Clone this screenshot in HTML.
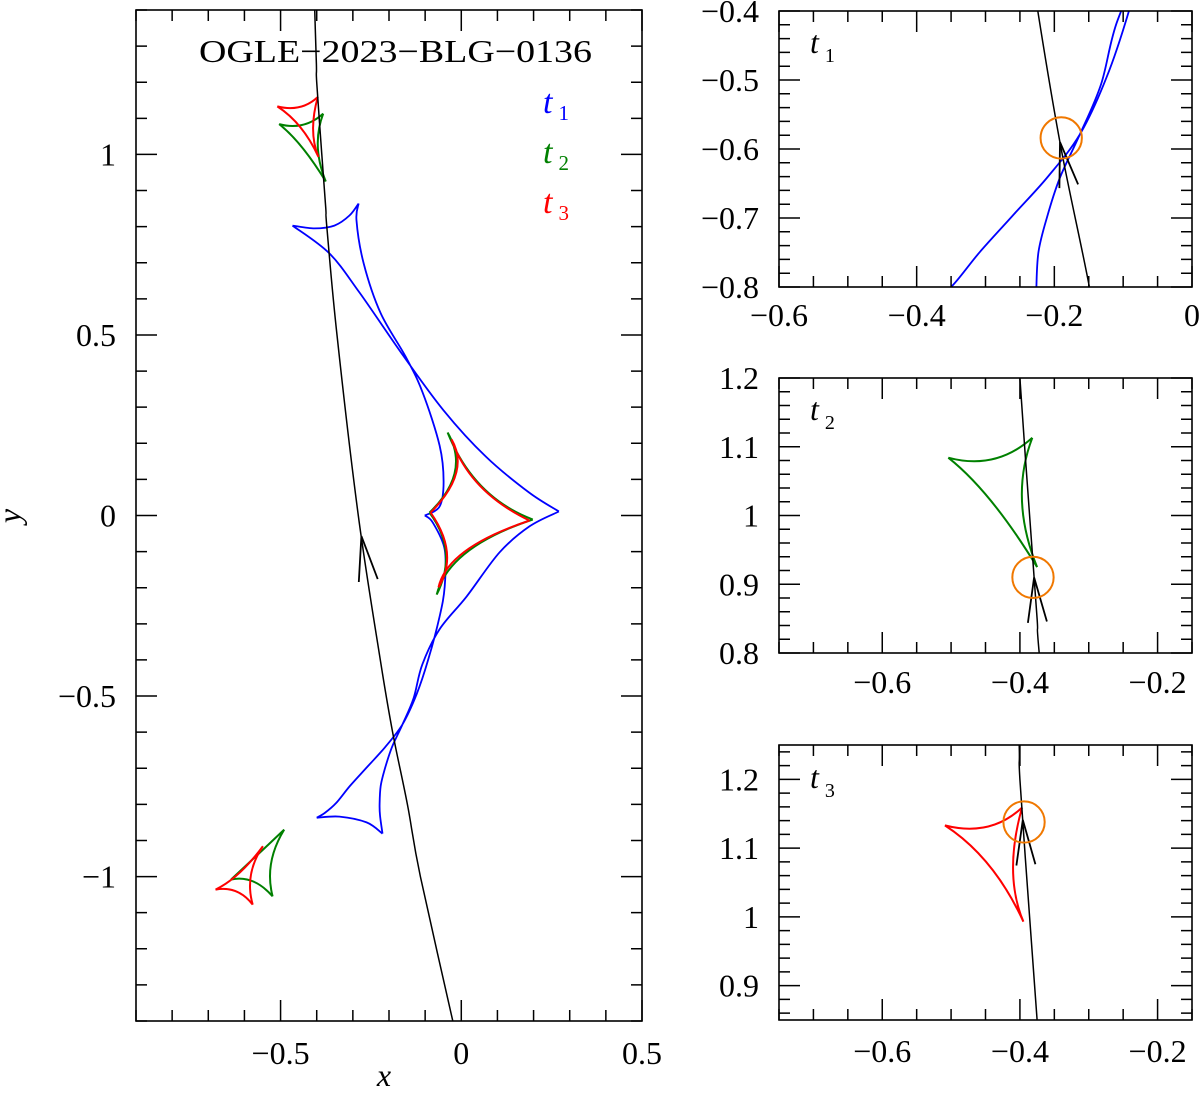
<!DOCTYPE html>
<html><head><meta charset="utf-8"><style>
html,body{margin:0;padding:0;background:#fff;overflow:hidden;width:1200px;height:1094px;}
svg{display:block;position:absolute;left:0;top:0;}
text{font-family:"Liberation Serif",serif;fill:#000;}
</style></head><body>
<svg id="fig" width="1200" height="1094" viewBox="0 0 1200 1094" xmlns="http://www.w3.org/2000/svg">
<defs>
<clipPath id="c0"><rect x="136" y="10" width="506" height="1011"/></clipPath>
<clipPath id="c1"><rect x="779" y="11" width="413" height="276"/></clipPath>
<clipPath id="c2"><rect x="779" y="378" width="413" height="275"/></clipPath>
<clipPath id="c3"><rect x="779" y="745" width="413" height="275"/></clipPath>
</defs>
<text x="199" y="62" font-size="32" textLength="393" lengthAdjust="spacingAndGlyphs">OGLE−2023−BLG−0136</text>
<g font-style="italic">
<text x="543" y="113" font-size="34" style="fill:#0000ff">t<tspan font-size="21" font-style="normal" dx="6" dy="7">1</tspan></text>
<text x="543" y="163" font-size="34" style="fill:#008000">t<tspan font-size="21" font-style="normal" dx="6" dy="7">2</tspan></text>
<text x="543" y="213" font-size="34" style="fill:#ff0000">t<tspan font-size="21" font-style="normal" dx="6" dy="7">3</tspan></text>
</g>
<text x="384" y="1086" font-size="32" font-style="italic" text-anchor="middle">x</text>
<text x="0" y="0" font-size="32" font-style="italic" text-anchor="middle" transform="translate(20,516) rotate(-90)">y</text>
<text x="810" y="53" font-size="32" font-style="italic">t<tspan font-size="20" font-style="normal" dx="6" dy="9">1</tspan></text>
<text x="810" y="420" font-size="32" font-style="italic">t<tspan font-size="20" font-style="normal" dx="6" dy="9">2</tspan></text>
<text x="810" y="788" font-size="32" font-style="italic">t<tspan font-size="20" font-style="normal" dx="6" dy="9">3</tspan></text>
</svg>
<script>
// ---- data (lens-plane coordinates) ----
const trajY = [1.45, 1.25, 1.2, 1.0, 0.85, 0.8, 0.5, 0.0, -0.4, -0.6, -0.8, -1.0, -1.45];
const trajX = [-0.407, -0.401, -0.400, -0.386, -0.375, -0.372, -0.344, -0.285, -0.224, -0.190, -0.149, -0.113, -0.012];
const blueCausticX = [-0.467,-0.406,-0.351,-0.309,-0.284,-0.290,-0.270,-0.223,-0.154,-0.107,-0.060,-0.049,-0.060,-0.101,-0.079,-0.046,-0.046,-0.060,-0.092,-0.124,-0.163,-0.211,-0.259,-0.308,-0.347,-0.378,-0.400,-0.337,-0.262,-0.218,-0.225,-0.226,-0.223,-0.211,-0.192,-0.163,-0.132,-0.108,-0.060,0.015,0.106,0.189,0.270,0.187,0.068,-0.049,-0.165,-0.282,-0.365,-0.467];
const blueCausticY = [0.803,0.795,0.803,0.831,0.864,0.817,0.698,0.560,0.440,0.341,0.194,0.094,0.025,0.0,-0.019,-0.094,-0.197,-0.280,-0.401,-0.496,-0.579,-0.642,-0.695,-0.749,-0.797,-0.824,-0.837,-0.834,-0.850,-0.881,-0.830,-0.800,-0.749,-0.700,-0.642,-0.579,-0.506,-0.413,-0.315,-0.224,-0.102,-0.030,0.011,0.064,0.163,0.291,0.449,0.618,0.726,0.803];
const blueCusps = [0, 4, 13, 26, 29, 42, 49];
// small caustics: cusps then mid-edge points (edges i -> i+1)
const greenCentralCusps = [[-0.038,0.230],[-0.088,0.008],[-0.068,-0.219],[0.198,-0.011]];
const greenCentralMids  = [[-0.018,0.119],[-0.043,-0.102],[0.015,-0.102],[0.057,0.080]];
const redCentralCusps   = [[-0.027,0.211],[-0.085,0.008],[-0.063,-0.199],[0.189,-0.014]];
const redCentralMids    = [[-0.015,0.115],[-0.040,-0.100],[0.012,-0.098],[0.052,0.082]];
const greenTopCusps = [[-0.504,1.084],[-0.382,1.113],[-0.375,0.925]];
const greenTopMids  = [[-0.439,1.082],[-0.397,1.022],[-0.441,1.020]];
const redTopCusps   = [[-0.509,1.133],[-0.397,1.159],[-0.395,0.993]];
const redTopMids    = [[-0.448,1.131],[-0.410,1.069],[-0.445,1.075]];
const greenBotCusps = [[-0.490,-0.870],[-0.522,-1.055],[-0.637,-1.008]];
const greenBotMids  = [[-0.526,-0.962],[-0.577,-1.013],[-0.563,-0.939]];
const redBotCusps   = [[-0.549,-0.916],[-0.577,-1.078],[-0.680,-1.036]];
const redBotMids    = [[-0.582,-0.995],[-0.623,-1.041],[-0.614,-0.990]];
const arrowMainY = -0.057;
const sourceX = [-0.190, -0.381, -0.394];
const sourceY = [-0.584, 0.910, 1.138];
const sourceR = 0.030;
const arrowPanelY = [-0.590, 0.910, 1.141];
// tick labels
const mainXTicks = [-0.5, 0, 0.5];
const mainXLabels = ["−0.5", "0", "0.5"];
const mainYTicks = [-1, -0.5, 0, 0.5, 1];
const mainYLabels = ["−1", "−0.5", "0", "0.5", "1"];
const p1XTicks = [-0.6, -0.4, -0.2, 0];
const p1XLabels = ["−0.6", "−0.4", "−0.2", "0"];
const p1YTicks = [-0.8, -0.7, -0.6, -0.5, -0.4];
const p1YLabels = ["−0.8", "−0.7", "−0.6", "−0.5", "−0.4"];
const p23XTicks = [-0.6, -0.4, -0.2];
const p23XLabels = ["−0.6", "−0.4", "−0.2"];
const p2YTicks = [0.8, 0.9, 1.0, 1.1, 1.2];
const p2YLabels = ["0.8", "0.9", "1", "1.1", "1.2"];
const p3YTicks = [0.9, 1.0, 1.1, 1.2];
const p3YLabels = ["0.9", "1", "1.1", "1.2"];

const NS = "http://www.w3.org/2000/svg";
const svg = document.getElementById('fig');
function mk(tag, attrs, parent) {
  const e = document.createElementNS(NS, tag);
  for (const k in attrs) e.setAttribute(k, attrs[k]);
  (parent || svg).appendChild(e);
  return e;
}
function axis(x0, x1, px0, px1, y0, y1, py0, py1) {
  return { sx: v => px0 + (v - x0) * (px1 - px0) / (x1 - x0),
           sy: v => py0 + (v - y0) * (py1 - py0) / (y1 - y0),
           x0, x1, y0, y1, px0, px1, py0, py1 };
}
const panels = [
  { ax: axis(-0.9, 0.5, 136, 642, -1.4, 1.4, 1021, 10), clip: 'c0', name: 'main-plot',
    xt: mainXTicks, xl: mainXLabels, yt: mainYTicks, yl: mainYLabels, xminor: 0.1, yminor: 0.1, xlabY: 1064 },
  { ax: axis(-0.6, 0, 779, 1192, -0.8, -0.4, 287, 11), clip: 'c1', name: 'panel-t1',
    xt: p1XTicks, xl: p1XLabels, yt: p1YTicks, yl: p1YLabels, xminor: 0.05, yminor: 0.02, xlabY: 326 },
  { ax: axis(-0.75, -0.15, 779, 1192, 0.8, 1.2, 653, 378), clip: 'c2', name: 'panel-t2',
    xt: p23XTicks, xl: p23XLabels, yt: p2YTicks, yl: p2YLabels, xminor: 0.05, yminor: 0.02, xlabY: 693 },
  { ax: axis(-0.75, -0.15, 779, 1192, 0.85, 1.25, 1020, 745), clip: 'c3', name: 'panel-t3',
    xt: p23XTicks, xl: p23XLabels, yt: p3YTicks, yl: p3YLabels, xminor: 0.05, yminor: 0.02, xlabY: 1062 }
];
function catmull(pts) {
  let d = 'M' + pts[0][0].toFixed(1) + ',' + pts[0][1].toFixed(1);
  for (let i = 0; i < pts.length - 1; i++) {
    const p0 = pts[Math.max(i - 1, 0)], p1 = pts[i], p2 = pts[i + 1], p3 = pts[Math.min(i + 2, pts.length - 1)];
    const c1 = [p1[0] + (p2[0] - p0[0]) / 6, p1[1] + (p2[1] - p0[1]) / 6];
    const c2 = [p2[0] - (p3[0] - p1[0]) / 6, p2[1] - (p3[1] - p1[1]) / 6];
    d += 'C' + c1[0].toFixed(1) + ',' + c1[1].toFixed(1) + ' ' + c2[0].toFixed(1) + ',' + c2[1].toFixed(1) + ' ' + p2[0].toFixed(1) + ',' + p2[1].toFixed(1);
  }
  return d;
}
function trajAt(y) {
  for (let i = 0; i < trajY.length - 1; i++) {
    if (y <= trajY[i] && y >= trajY[i + 1]) {
      const t = (y - trajY[i]) / (trajY[i + 1] - trajY[i]);
      return trajX[i] + t * (trajX[i + 1] - trajX[i]);
    }
  }
  return trajX[trajX.length - 1];
}
function triPath(ax, cusps, mids) {
  let d = '';
  const n = cusps.length;
  for (let i = 0; i < n; i++) {
    const a = cusps[i], b = cusps[(i + 1) % n], m = mids[i];
    const A = [ax.sx(a[0]), ax.sy(a[1])], B = [ax.sx(b[0]), ax.sy(b[1])], M = [ax.sx(m[0]), ax.sy(m[1])];
    const C = [2 * M[0] - (A[0] + B[0]) / 2, 2 * M[1] - (A[1] + B[1]) / 2];
    d += 'M' + A[0].toFixed(1) + ',' + A[1].toFixed(1) + 'Q' + C[0].toFixed(1) + ',' + C[1].toFixed(1) + ' ' + B[0].toFixed(1) + ',' + B[1].toFixed(1);
  }
  return d;
}
function drawArrow(g, ax, y, nm) {
  const tip = [ax.sx(trajAt(y)), ax.sy(y)];
  const back = [ax.sx(trajAt(y - 0.05)), ax.sy(y - 0.05)];
  let dx = back[0] - tip[0], dy = back[1] - tip[1];
  const L = Math.hypot(dx, dy); dx /= L; dy /= L;
  const a = 12 * Math.PI / 180, len = 46;
  let d = '';
  [a, -a].forEach(t => {
    const ex = tip[0] + len * (dx * Math.cos(t) - dy * Math.sin(t));
    const ey = tip[1] + len * (dx * Math.sin(t) + dy * Math.cos(t));
    d += 'M' + tip[0].toFixed(1) + ',' + tip[1].toFixed(1) + 'L' + ex.toFixed(1) + ',' + ey.toFixed(1);
  });
  const p = mk('path', { d: d, fill: 'none', stroke: '#000', 'stroke-width': 1.8 }, g);
  
  
}

panels.forEach((P, pi) => {
  const ax = P.ax;
  const g = mk('g', {});
  
  
  const cg = mk('g', { 'clip-path': 'url(#' + P.clip + ')' }, g);
  
  
  const bpts = blueCausticX.map((v, i) => [ax.sx(v), ax.sy(blueCausticY[i])]);
  let bd = '';
  for (let s = 0; s < blueCusps.length - 1; s++) bd += catmull(bpts.slice(blueCusps[s], blueCusps[s + 1] + 1));
  if (pi === 0 || pi === 1) {
    const bp = mk('path', { d: bd, fill: 'none', stroke: '#0000ff', 'stroke-width': 1.8 }, cg);
    
    
  }
  const sets = [];
  if (pi === 0) {
    sets.push(['caustic-t2-central', '#008000', greenCentralCusps, greenCentralMids]);
    sets.push(['caustic-t3-central', '#ff0000', redCentralCusps, redCentralMids]);
    sets.push(['caustic-t2-planetary-top', '#008000', greenTopCusps, greenTopMids]);
    sets.push(['caustic-t3-planetary-top', '#ff0000', redTopCusps, redTopMids]);
    sets.push(['caustic-t2-planetary-bottom', '#008000', greenBotCusps, greenBotMids]);
    sets.push(['caustic-t3-planetary-bottom', '#ff0000', redBotCusps, redBotMids]);
  } else if (pi === 2) {
    sets.push(['caustic-t2-planetary-top', '#008000', greenTopCusps, greenTopMids]);
  } else if (pi === 3) {
    sets.push(['caustic-t3-planetary-top', '#ff0000', redTopCusps, redTopMids]);
  }
  sets.forEach(s => {
    const p = mk('path', { d: triPath(ax, s[2], s[3]), fill: 'none', stroke: s[1], 'stroke-width': 2 }, cg);
    
    
  });
  const tp = mk('path', { d: catmull(trajX.map((v, i) => [ax.sx(v), ax.sy(trajY[i])])), fill: 'none', stroke: '#000', 'stroke-width': 1.5 }, cg);
  
  
  if (pi === 0) drawArrow(cg, ax, arrowMainY, 'trajectory-arrow');
  else {
    drawArrow(cg, ax, arrowPanelY[pi - 1], 'trajectory-arrow');
    const c = mk('circle', { cx: ax.sx(sourceX[pi - 1]), cy: ax.sy(sourceY[pi - 1]), r: Math.abs(ax.sx(sourceR) - ax.sx(0)), fill: 'none', stroke: '#f07800', 'stroke-width': 2 }, cg);
    
    
  }
  const fr = mk('rect', { x: ax.px0, y: Math.min(ax.py0, ax.py1), width: ax.px1 - ax.px0, height: Math.abs(ax.py1 - ax.py0), fill: 'none', stroke: '#000', 'stroke-width': 1.6 }, g);
  
  
  const top = Math.min(ax.py0, ax.py1), bot = Math.max(ax.py0, ax.py1);
  let td = '';
  const isMaj = (v, arr) => arr.some(t => Math.abs(t - v) < 1e-6);
  for (let k = Math.ceil(ax.x0 / P.xminor - 1e-6); k * P.xminor <= ax.x1 + 1e-6; k++) {
    const v = k * P.xminor, px = ax.sx(v), L = isMaj(v, P.xt) ? 21 : 11;
    td += 'M' + px + ',' + bot + 'v' + (-L) + 'M' + px + ',' + top + 'v' + L;
  }
  for (let k = Math.ceil(ax.y0 / P.yminor - 1e-6); k * P.yminor <= ax.y1 + 1e-6; k++) {
    const v = k * P.yminor, py = ax.sy(v), L = isMaj(v, P.yt) ? 21 : 11;
    td += 'M' + ax.px0 + ',' + py + 'h' + L + 'M' + ax.px1 + ',' + py + 'h' + (-L);
  }
  const tk = mk('path', { d: td, stroke: '#000', 'stroke-width': 1.5, fill: 'none' }, g);
  
  
  P.xt.forEach((v, i) => {
    const t = mk('text', { x: ax.sx(v), y: P.xlabY, 'font-size': 32, 'text-anchor': 'middle' }, g);
    t.textContent = P.xl[i];
    
    
  });
  P.yt.forEach((v, i) => {
    const t = mk('text', { x: ax.px0 - 20, y: ax.sy(v) + 11, 'font-size': 32, 'text-anchor': 'end' }, g);
    t.textContent = P.yl[i];
    
    
  });
});
</script>
</body></html>
